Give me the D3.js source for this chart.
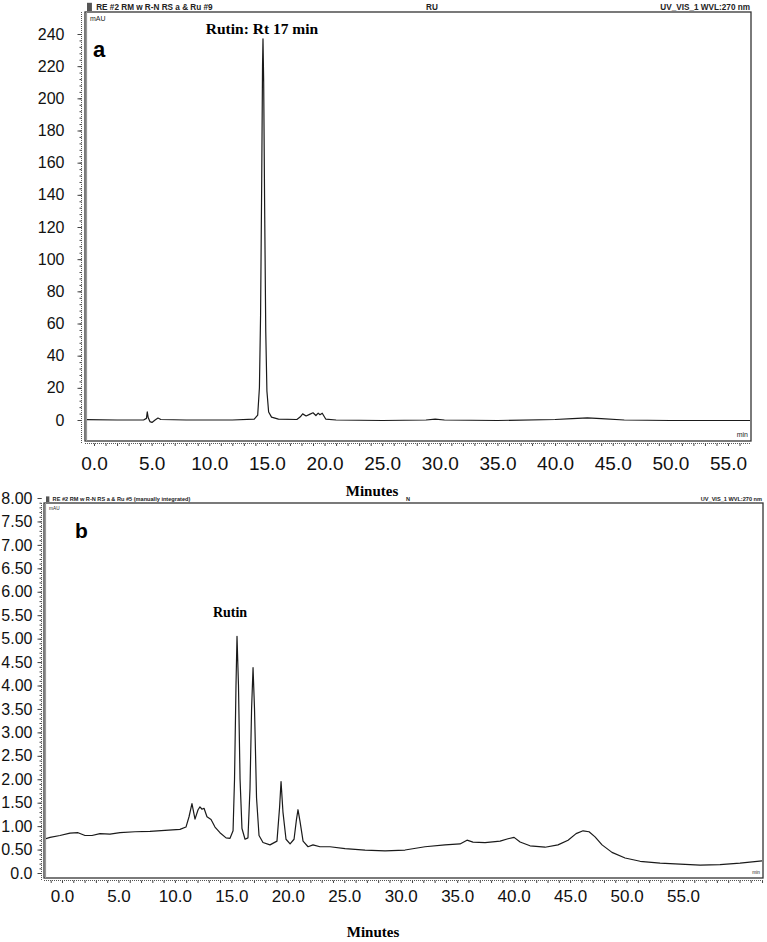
<!DOCTYPE html>
<html>
<head>
<meta charset="utf-8">
<script src="https://cdnjs.cloudflare.com/ajax/libs/d3/7.8.5/d3.min.js"></script>
<style>
body { margin: 0; background: #fff; }
svg { display: block; }
</style>
</head>
<body>
<script>
// tick labels (minutes, mAU)
var xTicks = [0, 5, 10, 15, 20, 25, 30, 35, 40, 45, 50, 55];
var yTicksA = [0, 20, 40, 60, 80, 100, 120, 140, 160, 180, 200, 220, 240];
var yTicksB = [0, 0.5, 1, 1.5, 2, 2.5, 3, 3.5, 4, 4.5, 5, 5.5, 6, 6.5, 7, 7.5, 8];

// chromatogram a: [minutes, mAU]
var traceA = [
    [-0.78, 0.2], [2, 0], [4.3, 0], [4.55, 1], [4.62, 5], [4.7, 1.5], [4.85, -1], [5.03, -1.5],
    [5.3, 0], [5.55, 1.2], [5.8, 0.3], [8, 0], [12, 0], [13.9, 0.5], [14.2, 3], [14.35, 20],
    [14.45, 65], [14.55, 150], [14.62, 220], [14.66, 237], [14.72, 210], [14.8, 135], [14.9, 55],
    [15.0, 18], [15.15, 5], [15.4, 1.8], [16, 0.5], [17.6, 0.3], [17.9, 2], [18.1, 3.8], [18.4, 2.5],
    [18.7, 3.5], [19.0, 4.5], [19.25, 2.8], [19.45, 4.3], [19.6, 3.3], [19.8, 4.2], [20.1, 0.6],
    [21, 0], [25, -0.3], [28.8, 0], [29.6, 0.6], [30.4, 0], [35, -0.3], [40, 0.3], [41.5, 0.9],
    [42.8, 1.3], [44, 0.8], [46, 0], [50, -0.3], [57, -0.3]
];

// chromatogram b: [minutes, mAU]
var traceB = [
    [-1.6, 0.72], [-1.06, 0.76], [-0.18, 0.8], [0.71, 0.85], [1.42, 0.86], [2.04, 0.8], [2.66, 0.8],
    [3.37, 0.84], [4.25, 0.83], [5.14, 0.86], [6.47, 0.88], [7.79, 0.89], [9.12, 0.91], [10.45, 0.93],
    [10.98, 0.98], [11.25, 1.2], [11.51, 1.48], [11.78, 1.15], [12.05, 1.35], [12.22, 1.41], [12.4, 1.36],
    [12.58, 1.38], [12.84, 1.2], [13.2, 1.14], [13.55, 0.98], [13.99, 0.86], [14.53, 0.75], [14.88, 0.74],
    [15.15, 0.9], [15.28, 2.0], [15.41, 4.0], [15.5, 5.05], [15.63, 4.0], [15.77, 2.0], [15.94, 0.95],
    [16.21, 0.72], [16.47, 0.75], [16.65, 1.8], [16.79, 3.5], [16.92, 4.38], [17.05, 3.5], [17.23, 1.6],
    [17.45, 0.8], [17.8, 0.65], [18.42, 0.6], [19.04, 0.68], [19.27, 1.4], [19.4, 1.95], [19.57, 1.3],
    [19.84, 0.72], [20.2, 0.62], [20.55, 0.72], [20.77, 1.15], [20.9, 1.35], [21.08, 1.1], [21.35, 0.68],
    [21.79, 0.56], [22.23, 0.6], [22.85, 0.56], [23.74, 0.56], [25.07, 0.52], [26.84, 0.49], [28.61, 0.47],
    [30.38, 0.49], [32.15, 0.56], [33.92, 0.6], [35.25, 0.62], [35.87, 0.7], [36.4, 0.66], [37.47, 0.65],
    [38.8, 0.68], [39.5, 0.73], [40.04, 0.76], [40.57, 0.66], [41.45, 0.58], [42.78, 0.55], [43.93, 0.6],
    [44.82, 0.7], [45.53, 0.84], [46.15, 0.9], [46.68, 0.88], [47.21, 0.77], [47.83, 0.6], [48.71, 0.44],
    [49.87, 0.32], [51.2, 0.25], [52.97, 0.21], [56.51, 0.17], [58.28, 0.18], [60.05, 0.21], [62.09, 0.26]
];

var width = 767, height = 942;
var sans = "'Liberation Sans', Arial, sans-serif";
var serif = "'Liberation Serif', 'Times New Roman', serif";

var svg = d3.select("body").append("svg")
    .attr("width", width)
    .attr("height", height);

function drawPanel(p) {
    var g = svg.append("g");

    var x = d3.scaleLinear().domain([0, 55]).range(p.xRange);
    var y = d3.scaleLinear().domain(p.yDomain).range(p.yRange);

    // header line above the box
    g.append("rect")
        .attr("x", p.box[0] + 2).attr("y", p.box[1] - p.hdrSize - 1)
        .attr("width", p.hdrSize * 0.6).attr("height", p.hdrSize)
        .attr("fill", "#555");
    g.append("text")
        .attr("x", p.box[0] + 3 + p.hdrSize)
        .attr("y", p.box[1] - 2.5)
        .style("font", "bold " + p.hdrSize + "px " + sans)
        .attr("fill", "#222")
        .text(p.header);
    g.append("text")
        .attr("x", p.midX)
        .attr("y", p.box[1] - 2.5)
        .style("font", "bold " + p.hdrSize + "px " + sans)
        .attr("fill", "#222")
        .text(p.mid);
    g.append("text")
        .attr("x", p.box[2] - 1)
        .attr("y", p.box[1] - 2.5)
        .attr("text-anchor", "end")
        .style("font", "bold " + p.hdrSize + "px " + sans)
        .attr("fill", "#222")
        .text("UV_VIS_1 WVL:270 nm");

    // the box
    g.append("rect")
        .attr("x", p.box[0]).attr("y", p.box[1])
        .attr("width", p.box[2] - p.box[0]).attr("height", p.box[3] - p.box[1])
        .attr("fill", "none")
        .attr("stroke", "#333")
        .attr("stroke-width", 1.3);
    g.append("line")
        .attr("x1", p.box[0] + 1.5).attr("x2", p.box[0] + 1.5)
        .attr("y1", p.box[1]).attr("y2", p.box[3])
        .attr("stroke", "#999").attr("stroke-width", 1.2);

    // y axis: dotted line with minor and major ticks
    var yMinor = d3.axisLeft(y).tickValues(p.yMinor).tickSize(2).tickFormat("");
    var ym = g.append("g").attr("transform", "translate(" + p.yAxisX + ",0)").call(yMinor);
    ym.select(".domain").remove();
    ym.selectAll("line").attr("stroke", "#444");
    var yMajor = d3.axisLeft(y).tickValues(p.yTicks)
        .tickSize(4).tickPadding(p.yPad).tickFormat(p.yFormat);
    var ya = g.append("g").attr("transform", "translate(" + p.yAxisX + ",0)").call(yMajor);
    ya.select(".domain").remove();
    ya.selectAll("line").attr("stroke", "#444");
    ya.selectAll("text")
        .style("font", p.yFont + "px " + sans)
        .attr("fill", "#111");
    g.append("line")
        .attr("x1", p.yAxisX).attr("x2", p.yAxisX)
        .attr("y1", p.box[1]).attr("y2", p.box[3] + 2)
        .attr("stroke", "#555").attr("stroke-width", 1)
        .attr("stroke-dasharray", "1,1");

    // x axis: dotted line with minute ticks, then labels below
    var xMinor = d3.axisBottom(x).tickValues(d3.range(Math.ceil(x.invert(p.box[0])), x.invert(p.box[2]), 1))
        .tickSize(2.5).tickFormat("");
    var xm = g.append("g").attr("transform", "translate(0," + p.xAxisY + ")").call(xMinor);
    xm.select(".domain").remove();
    xm.selectAll("line").attr("stroke", "#444");
    g.append("line")
        .attr("x1", p.box[0]).attr("x2", p.box[2])
        .attr("y1", p.xAxisY).attr("y2", p.xAxisY)
        .attr("stroke", "#555").attr("stroke-width", 1)
        .attr("stroke-dasharray", "1,1");
    var xLab = d3.axisBottom(x).tickValues(xTicks).tickSize(0).tickPadding(p.xPad)
        .tickFormat(d3.format(".1f"));
    var xa = g.append("g").attr("transform", "translate(0," + p.xAxisY + ")").call(xLab);
    xa.select(".domain").remove();
    xa.selectAll("text")
        .style("font", p.xFont + "px " + sans)
        .attr("fill", "#111");

    // trace
    var clipId = "clip" + p.letter;
    svg.append("clipPath").attr("id", clipId).append("rect")
        .attr("x", p.box[0] + 2).attr("y", p.box[1] + 1)
        .attr("width", p.box[2] - p.box[0] - 3).attr("height", p.box[3] - p.box[1] - 2);
    var line = d3.line()
        .x(function (d) { return x(d[0]); })
        .y(function (d) { return y(d[1]); });
    g.append("path")
        .datum(p.trace)
        .attr("clip-path", "url(#" + clipId + ")")
        .attr("d", line)
        .attr("fill", "none")
        .attr("stroke", "#1a1a1a")
        .attr("stroke-width", 1.2)
        .attr("stroke-linejoin", "round");

    // small labels inside the box
    g.append("text")
        .attr("x", p.box[0] + 5).attr("y", p.box[1] + p.hdrSize + 1)
        .style("font", p.hdrSize * 0.85 + "px " + sans)
        .attr("fill", "#222")
        .text("mAU");
    g.append("text")
        .attr("x", p.box[2] - 3).attr("y", p.box[3] - 4)
        .attr("text-anchor", "end")
        .style("font", p.hdrSize * 0.85 + "px " + sans)
        .attr("fill", "#222")
        .text("min");
    g.append("text")
        .attr("x", p.letterPos[0]).attr("y", p.letterPos[1])
        .style("font", "bold " + p.letterSize + "px " + sans)
        .attr("fill", "#000")
        .text(p.letter);

    // peak name
    g.append("text")
        .attr("x", p.peakPos[0]).attr("y", p.peakPos[1])
        .attr("text-anchor", "middle")
        .style("font", "bold " + p.peakSize + "px " + serif)
        .attr("fill", "#000")
        .text(p.peak);

    // axis title
    g.append("text")
        .attr("x", p.titlePos[0]).attr("y", p.titlePos[1])
        .attr("text-anchor", "middle")
        .style("font", "bold 15px " + serif)
        .attr("fill", "#000")
        .text("Minutes");
}

drawPanel({
    letter: "a",
    header: "RE #2 RM w R-N RS a & Ru #9",
    mid: "RU",
    midX: 426,
    hdrSize: 8.2,
    box: [85, 12, 751, 441],
    xRange: [94, 728],
    yDomain: [0, 240],
    yRange: [420, 34],
    yTicks: yTicksA,
    yMinor: d3.range(0, 241, 4),
    yFormat: d3.format("d"),
    yAxisX: 81.5,
    yPad: 13,
    yFont: 16,
    xAxisY: 443.5,
    xPad: 13,
    xFont: 19,
    trace: traceA,
    letterPos: [93, 57],
    letterSize: 22,
    peak: "Rutin: Rt 17 min",
    peakPos: [262, 34],
    peakSize: 15.5,
    titlePos: [372, 496]
});

drawPanel({
    letter: "b",
    header: "RE #2 RM w R-N RS a & Ru #5 (manually integrated)",
    mid: "N",
    midX: 406,
    hdrSize: 5.6,
    box: [44, 503, 763, 878],
    xRange: [62, 683],
    yDomain: [0, 8],
    yRange: [873, 498],
    yTicks: yTicksB,
    yMinor: d3.range(0, 8.01, 0.1),
    yFormat: function (d) { return d === 0 ? "0.0" : d3.format(".2f")(d); },
    yAxisX: 41.5,
    yPad: 5,
    yFont: 16,
    xAxisY: 880.5,
    xPad: 9,
    xFont: 17,
    trace: traceB,
    letterPos: [75, 538],
    letterSize: 21,
    peak: "Rutin",
    peakPos: [230, 617],
    peakSize: 14,
    titlePos: [373, 937]
});
</script>
</body>
</html>
